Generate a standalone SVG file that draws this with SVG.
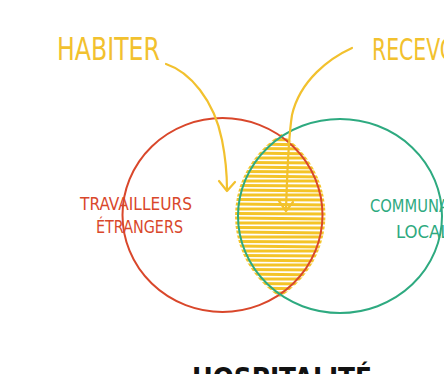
<svg xmlns="http://www.w3.org/2000/svg" width="444" height="374" viewBox="0 0 444 374">
<style>
.lbl{font-family:"DejaVu Sans Condensed","DejaVu Sans","Liberation Sans",sans-serif}
.yel{fill:#F2C12E}
.red{fill:#D9472B}
.grn{fill:#2EAA80}
.arrow{fill:none;stroke:#F2C12E;stroke-width:2.2;stroke-linecap:round;stroke-linejoin:round}
.hatch line{stroke:#F4C428;stroke-width:3;stroke-linecap:round}
</style>
<defs>
<clipPath id="clipRed"><ellipse cx="222.5" cy="215" rx="103" ry="99"/></clipPath>
<clipPath id="clipGreen"><ellipse cx="340" cy="216" rx="105" ry="99"/></clipPath>
</defs>
<rect width="444" height="374" fill="#ffffff"/>

<g id="intersection" clip-path="url(#clipRed)">
<g class="hatch" clip-path="url(#clipGreen)">
<line x1="270" y1="130" x2="300" y2="131"/>
<line x1="260" y1="135" x2="306" y2="134"/>
<line x1="256" y1="139.5" x2="310" y2="140"/>
<line x1="252" y1="144" x2="314" y2="145"/>
<line x1="248" y1="148.5" x2="318" y2="149"/>
<line x1="246" y1="153" x2="320" y2="154"/>
<line x1="244" y1="158" x2="322" y2="158"/>
<line x1="242" y1="162.5" x2="324" y2="163"/>
<line x1="240" y1="167" x2="326" y2="168"/>
<line x1="238" y1="171.5" x2="328" y2="172"/>
<line x1="236" y1="176" x2="326" y2="177"/>
<line x1="234" y1="181" x2="328" y2="181"/>
<line x1="234" y1="185.5" x2="330" y2="186"/>
<line x1="232" y1="190" x2="330" y2="191"/>
<line x1="232" y1="195" x2="330" y2="195"/>
<line x1="232" y1="199.5" x2="330" y2="200"/>
<line x1="232" y1="204" x2="330" y2="205"/>
<line x1="232" y1="209" x2="330" y2="209"/>
<line x1="232" y1="213.5" x2="330" y2="214"/>
<line x1="232" y1="218" x2="330" y2="219"/>
<line x1="232" y1="223" x2="330" y2="223"/>
<line x1="232" y1="227.5" x2="330" y2="228"/>
<line x1="232" y1="232" x2="330" y2="233"/>
<line x1="232" y1="237" x2="330" y2="237"/>
<line x1="232" y1="241.5" x2="330" y2="242"/>
<line x1="232" y1="246" x2="330" y2="247"/>
<line x1="234" y1="251" x2="328" y2="251"/>
<line x1="234" y1="255.5" x2="328" y2="256"/>
<line x1="236" y1="260" x2="326" y2="261"/>
<line x1="238" y1="265" x2="324" y2="265"/>
<line x1="240" y1="269.5" x2="322" y2="270"/>
<line x1="242" y1="274" x2="320" y2="275"/>
<line x1="244" y1="279" x2="318" y2="279"/>
<line x1="246" y1="283.5" x2="314" y2="284"/>
<line x1="250" y1="288" x2="310" y2="289"/>
<line x1="254" y1="293" x2="306" y2="293"/>
<line x1="260" y1="297.5" x2="300" y2="298"/>
<line x1="266" y1="302" x2="294" y2="302"/>
</g>
</g>

<g id="node-travailleurs">
<ellipse cx="222.5" cy="215" rx="100" ry="97" fill="none" stroke="#D9472B" stroke-width="2"/>
<text class="lbl red" x="80" y="210" font-size="18" textLength="112" lengthAdjust="spacingAndGlyphs">TRAVAILLEURS</text>
<text class="lbl red" x="96" y="233" font-size="18" textLength="87" lengthAdjust="spacingAndGlyphs">ÉTRANGERS</text>
</g>

<g id="node-communaute">
<ellipse cx="340" cy="216" rx="102" ry="97" fill="none" stroke="#2EAA80" stroke-width="2"/>
<text class="lbl grn" x="370" y="212" font-size="18" textLength="108" lengthAdjust="spacingAndGlyphs">COMMUNAUTÉ</text>
<text class="lbl grn" x="396" y="238" font-size="17" textLength="64" lengthAdjust="spacingAndGlyphs">LOCALE</text>
</g>

<g id="node-habiter">
<text class="lbl yel" x="57" y="60" font-size="32" textLength="103" lengthAdjust="spacingAndGlyphs">HABITER</text>
</g>

<g id="node-recevoir">
<text class="lbl yel" x="372" y="60" font-size="30" textLength="104" lengthAdjust="spacingAndGlyphs">RECEVOIR</text>
</g>

<g id="node-bottom">
<text class="lbl" x="192" y="388" font-size="28" font-weight="bold" fill="#111" textLength="180" lengthAdjust="spacingAndGlyphs">HOSPITALITÉ</text>
</g>

<g id="connectors">
<path class="arrow" d="M166,64 C190,72 214,100 222,140 C226,160 227,175 227,190"/>
<polyline class="arrow" points="219,181 227,191 235,182"/>
<path class="arrow" d="M352,48 C330,58 300,80 292,115 C288,140 287,180 286,210"/>
<polyline class="arrow" points="279,201 286,211 293,202"/>
</g>
</svg>
